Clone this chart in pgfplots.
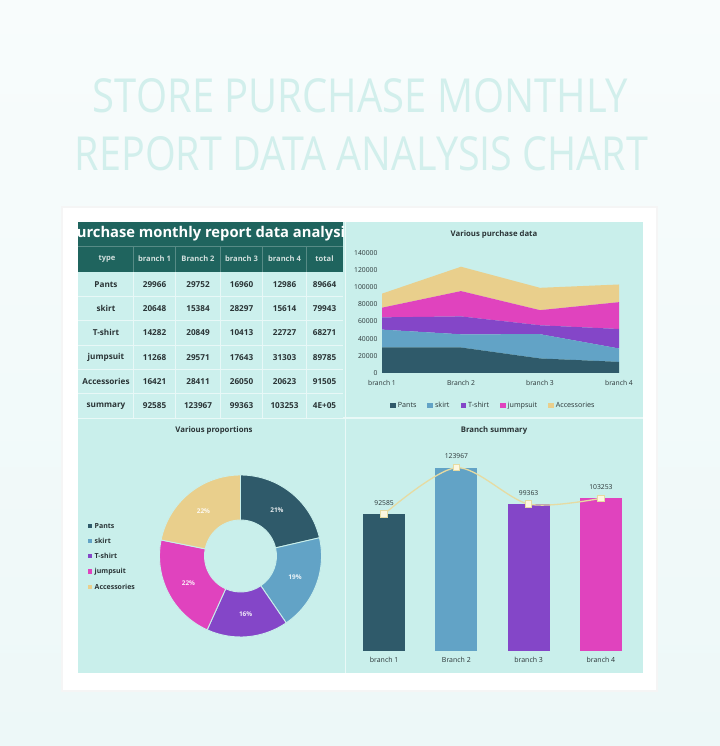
\documentclass[border=0pt]{standalone}
\usepackage{pgfplots}
\pgfplotsset{compat=1.18}
\usepackage{pgfplotstable}
\usepackage{fontspec}
\setmainfont{Open Sans}
\definecolor{bgtop}{HTML}{F8FCFC}
\definecolor{bgbot}{HTML}{EDF8F8}
\definecolor{titlec}{HTML}{D2EFEC}
\definecolor{panel}{HTML}{C9EFEB}
\definecolor{tabbg}{HTML}{CCF0ED}
\definecolor{dark}{HTML}{1F645E}
\definecolor{hdrtxt}{HTML}{D2E0DE}
\definecolor{txt}{HTML}{2A3436}
\definecolor{cPants}{HTML}{2F5A6A}
\definecolor{cSkirt}{HTML}{62A3C6}
\definecolor{cTshirt}{HTML}{8446C8}
\definecolor{cJump}{HTML}{E043BE}
\definecolor{cAcc}{HTML}{E9CF8C}
\definecolor{lineTan}{HTML}{E6DBA2}
\definecolor{markfill}{HTML}{FDF7E0}

\pgfplotstableread{
type value label
Pants 89664 21\%
skirt 79943 19\%
T-shirt 68271 16\%
jumpsuit 89785 22\%
Accessories 91505 22\%
}\pietable

\def\Ro{81}\def\Ri{36}\def\Rm{58.5}
\newcommand\donutseg[4]{%
  \edef\tmp{\noexpand\fill[#3, draw=panel, line width=0.9bp]
    (axis cs:\fpeval{\Ro*cosd(#1)},\fpeval{\Ro*sind(#1)}) arc[start angle=#1, end angle=#2, radius=\Ro bp]
    -- (axis cs:\fpeval{\Ri*cosd(#2)},\fpeval{\Ri*sind(#2)}) arc[start angle=#2, end angle=#1, radius=\Ri bp] -- cycle;
    \noexpand\node[text=white!88!#3, font=\noexpand\bfseries\noexpand\fontsize{6.5}{7}\noexpand\selectfont]
      at (axis cs:\fpeval{\Rm*cosd((#1+#2)/2)},\fpeval{\Rm*sind((#1+#2)/2)}) {#4};}%
  \tmp}

\begin{document}
\begin{tikzpicture}
\begin{scope}[x=1bp,y=1bp]
\shade[top color=bgtop, bottom color=bgbot] (0,0) rectangle (720,746);
\path[use as bounding box] (0,0) rectangle (720,746);

% big title
\node[anchor=base, text=titlec, inner sep=0] at (360.5,633)
  {\resizebox{535bp}{34bp}{\fontsize{40}{40}\selectfont STORE PURCHASE MONTHLY}};
\node[anchor=base, text=titlec, inner sep=0] at (361.5,575)
  {\resizebox{573bp}{34bp}{\fontsize{40}{40}\selectfont REPORT DATA ANALYSIS CHART}};

% frame and panel
\fill[black!4] (61,54) rectangle (658,540);
\fill[white] (63,56) rectangle (656,538);
\fill[panel] (78,73) rectangle (643,524);
\draw[white!60!panel, line width=1.2bp] (345.5,73) -- (345.5,524);
\draw[white!60!panel, line width=1.2bp] (78,328) -- (643,328);

% table
\fill[tabbg] (78,328) rectangle (343,474);
\fill[dark] (78,474) rectangle (343,524);
\begin{scope}
\clip (78,500) rectangle (343,524);
\node[text=white, font=\bfseries\fontsize{14.8}{15}\selectfont] at (210,512) {purchase monthly report data analysis};
\end{scope}
\draw[white!25!dark, line width=0.6bp] (78,500) -- (343,500);
\foreach \x in {133,175.5,220,262.5,306}
  \draw[white!25!dark, line width=0.6bp] (\x,474) -- (\x,500);
\foreach \x in {133,175.5,220,262.5,306}
  \draw[white!55!tabbg, line width=0.5bp] (\x,328) -- (\x,474);
\foreach \i in {1,...,5}
  \draw[white!55!tabbg, line width=0.5bp] (78,{474-24.33*\i}) -- (343,{474-24.33*\i});
\begin{scope}[every node/.style={text=hdrtxt, font=\bfseries\fontsize{7.6}{8}\selectfont}]
\node at (107,487) {type};
\node at (154.5,487) {branch 1};
\node at (198,487) {Branch 2};
\node at (241.5,487) {branch 3};
\node at (284.5,487) {branch 4};
\node at (324.5,487) {total};
\end{scope}
\begin{scope}[every node/.style={text=txt, font=\bfseries\fontsize{8.2}{9}\selectfont}]
\foreach \name/\a/\b/\c/\d/\t [count=\i from 0] in {
  Pants/29966/29752/16960/12986/89664,
  skirt/20648/15384/28297/15614/79943,
  T-shirt/14282/20849/10413/22727/68271,
  jumpsuit/11268/29571/17643/31303/89785,
  Accessories/16421/28411/26050/20623/91505,
  summary/92585/123967/99363/103253/4E+05}{
  \node at (106,{461.8-24.33*\i}) {\name};
  \node at (154.5,{461.8-24.33*\i}) {\a};
  \node at (198,{461.8-24.33*\i}) {\b};
  \node at (241.5,{461.8-24.33*\i}) {\c};
  \node at (284.5,{461.8-24.33*\i}) {\d};
  \node at (324.5,{461.8-24.33*\i}) {\t};
}
\end{scope}

\node[text=txt, font=\bfseries\fontsize{7.8}{8}\selectfont] at (494,512) {Various purchase data};
\node[text=txt, font=\bfseries\fontsize{7.8}{8}\selectfont] at (214,316) {Various proportions};
\node[text=txt, font=\bfseries\fontsize{7.8}{8}\selectfont] at (494,316) {Branch summary};

\begin{scope}[every node/.style={text=txt, font=\bfseries\fontsize{7}{7}\selectfont, anchor=west, inner sep=0}]
\foreach \c/\n/\yy in {cPants/Pants/220, cSkirt/skirt/205, cTshirt/T-shirt/190, cJump/jumpsuit/174.5, cAcc/Accessories/159}{
  \fill[\c] (87.5,\yy-2.2) rectangle (91.9,\yy+2.2);
  \node at (94.5,\yy) {\n};
}
\end{scope}
\end{scope}

% ---------- area chart ----------
\begin{axis}[
  at={(382bp,373bp)}, anchor=south west, scale only axis,
  width=237bp, height=120bp,
  xmin=1, xmax=4, ymin=0, ymax=140000,
  stack plots=y,
  axis line style={draw=none}, major tick length=0,
  ytick={0,20000,40000,60000,80000,100000,120000,140000},
  scaled y ticks=false,
  /pgf/number format/fixed, /pgf/number format/1000 sep={},
  /pgf/number format/assume math mode=true,
  xtick={1,2,3,4}, xticklabels={branch 1, Branch 2, branch 3, branch 4},
  ticklabel style={font=\fontsize{6.8}{7}\selectfont, text=txt},
  yticklabel style={xshift=-1bp},
  xticklabel style={yshift=-4bp},
  legend style={at={(0.47,-0.27)}, anchor=center, draw=none, fill=none,
    font=\fontsize{7.2}{7}\selectfont, text=txt,
    /tikz/every even column/.append style={column sep=9bp}},
  legend columns=5,
  legend image code/.code={\fill[#1] (0bp,-2.8bp) rectangle (5.6bp,2.8bp);},
]
\addplot[fill=cPants, draw=none] coordinates {(1,29966) (2,29752) (3,16960) (4,12986)} \closedcycle;
\addlegendentry{Pants}
\addplot[fill=cSkirt, draw=none] coordinates {(1,20648) (2,15384) (3,28297) (4,15614)} \closedcycle;
\addlegendentry{skirt}
\addplot[fill=cTshirt, draw=none] coordinates {(1,14282) (2,20849) (3,10413) (4,22727)} \closedcycle;
\addlegendentry{T-shirt}
\addplot[fill=cJump, draw=none] coordinates {(1,11268) (2,29571) (3,17643) (4,31303)} \closedcycle;
\addlegendentry{jumpsuit}
\addplot[fill=cAcc, draw=none] coordinates {(1,16421) (2,28411) (3,26050) (4,20623)} \closedcycle;
\addlegendentry{Accessories}
\end{axis}

% ---------- donut ----------
\pgfplotstablegetelem{0}{value}\of\pietable\edef\vA{\pgfplotsretval}
\pgfplotstablegetelem{1}{value}\of\pietable\edef\vB{\pgfplotsretval}
\pgfplotstablegetelem{2}{value}\of\pietable\edef\vC{\pgfplotsretval}
\pgfplotstablegetelem{3}{value}\of\pietable\edef\vD{\pgfplotsretval}
\pgfplotstablegetelem{4}{value}\of\pietable\edef\vE{\pgfplotsretval}
\edef\tot{\fpeval{\vA+\vB+\vC+\vD+\vE}}
\edef\aA{90}
\edef\aB{\fpeval{90-360*(\vA)/\tot}}
\edef\aC{\fpeval{90-360*(\vA+\vB)/\tot}}
\edef\aD{\fpeval{90-360*(\vA+\vB+\vC)/\tot}}
\edef\aE{\fpeval{90-360*(\vA+\vB+\vC+\vD)/\tot}}
\edef\aF{-270}
\begin{axis}[
  at={(240.5bp,190bp)}, anchor=center, scale only axis,
  x=1bp, y=1bp, xmin=-90, xmax=90, ymin=-90, ymax=90,
  hide axis, clip=false,
]
\addplot[draw=none] coordinates {(0,0)};
\donutseg{\aA}{\aB}{cPants}{21\%}
\donutseg{\aB}{\aC}{cSkirt}{19\%}
\donutseg{\aC}{\aD}{cTshirt}{16\%}
\donutseg{\aD}{\aE}{cJump}{22\%}
\donutseg{\aE}{\aF}{cAcc}{22\%}
\end{axis}

% ---------- bar chart ----------
\begin{axis}[
  at={(348bp,95bp)}, anchor=south west, scale only axis,
  width=289bp, height=207bp,
  xmin=0.5, xmax=4.5, ymin=0, ymax=140000,
  axis line style={draw=none}, major tick length=0,
  ytick=\empty,
  xtick={1,2,3,4}, xticklabels={branch 1, Branch 2, branch 3, branch 4},
  ticklabel style={font=\fontsize{7}{7}\selectfont, text=txt},
  xticklabel style={yshift=-3bp},
  clip=false,
]
\addplot[ybar, bar width=42bp, bar shift=0pt, fill=cPants, draw=none] coordinates {(1,92585)};
\addplot[ybar, bar width=42bp, bar shift=0pt, fill=cSkirt, draw=none] coordinates {(2,123967)};
\addplot[ybar, bar width=42bp, bar shift=0pt, fill=cTshirt, draw=none] coordinates {(3,99363)};
\addplot[ybar, bar width=42bp, bar shift=0pt, fill=cJump, draw=none] coordinates {(4,103253)};
\addplot[smooth, color=lineTan, line width=1.3bp, mark=square*,
  mark size=3.2bp, mark options={fill=markfill, draw=lineTan, line width=0.9bp},
  point meta=explicit symbolic, nodes near coords,
  every node near coord/.append style={font=\fontsize{6.8}{7}\selectfont, text=txt, anchor=south, yshift=5bp}]
  coordinates {(1,92585) [92585] (2,123967) [123967] (3,99363) [99363] (4,103253) [103253]};
\end{axis}
\end{tikzpicture}
\end{document}
